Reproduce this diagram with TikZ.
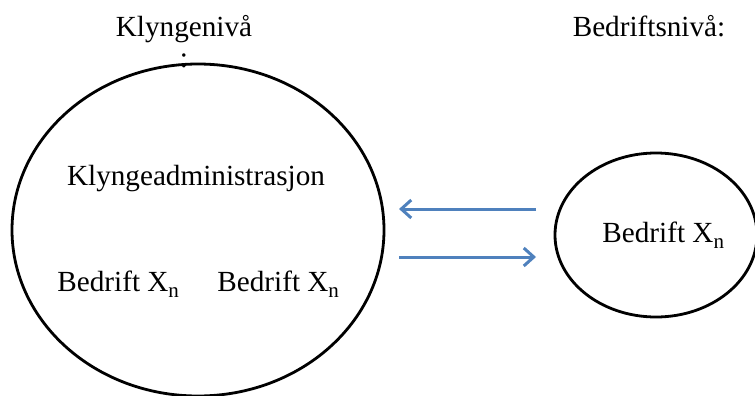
\documentclass[tikz,border=0pt]{standalone}
\usepackage{fontspec}
\setmainfont{Liberation Serif}
\usetikzlibrary{shapes.geometric,arrows.meta}
\definecolor{arrowblue}{RGB}{79,129,189}
\newcommand{\bx}{Bedrift X\raisebox{-0.45ex}{\fontsize{10.5}{12}\selectfont n}}
\begin{document}
\begin{tikzpicture}[x=0.5pt,y=-0.5pt,
  lbl/.style={font=\fontsize{14.6}{17.5}\selectfont, inner sep=0pt},
  oval/.style={ellipse, draw=black, line width=1.4pt, inner sep=0pt},
  arr/.style={draw=arrowblue, line width=1.5pt, -{Straight Barb[length=5pt,width=9pt,line width=1.5pt]}}]
\useasboundingbox (0,0) rectangle (755,396);
\node[oval, minimum width=186pt, minimum height=166pt] (big) at (198,230) {};
\node[oval, minimum width=101pt, minimum height=82pt] (small) at (656,235) {};
\node[lbl, align=center, anchor=base] (klynge) at (184,68) {Klyngenivå\\[-1.5pt]:};
\node[lbl, anchor=base] (bedniv) at (649,36) {Bedriftsnivå:};
\node[lbl, anchor=base] (adm) at (196,185) {Klyngeadministrasjon};
\node[lbl, anchor=base west] (b1) at (57,291) {\bx};
\node[lbl, anchor=base west] (b2) at (217,291) {\bx};
\node[lbl, anchor=base west] (b3) at (602,242) {\bx};
\coordinate (a1s) at (536,209);
\coordinate (a1e) at (399,209);
\coordinate (a2s) at (399,257);
\coordinate (a2e) at (536,257);
\draw[arr] (a1s) -- (a1e);
\draw[arr] (a2s) -- (a2e);
\end{tikzpicture}
\end{document}
